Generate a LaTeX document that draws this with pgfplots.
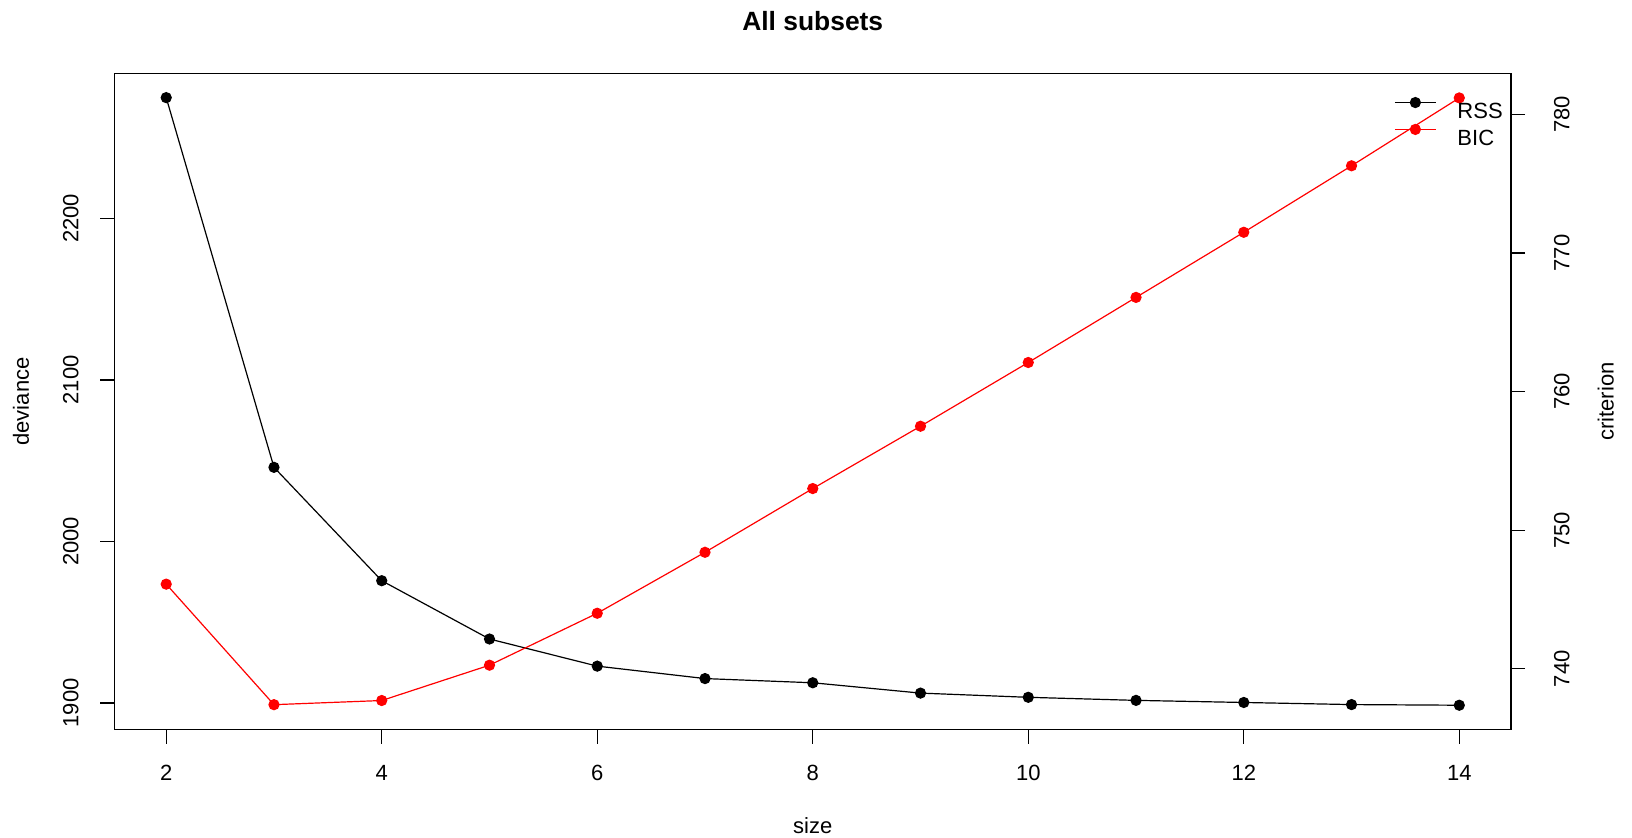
\documentclass[border=0pt]{standalone}
\usepackage{fontspec}
\setmainfont{Liberation Sans}
\usepackage{pgfplots}
\pgfplotsset{compat=1.18}

\newcommand{\rfont}{\fontsize{11}{13}\selectfont}

\pgfplotsset{
  rstyle/.style={
    at={(0,0)}, anchor=south west,
    width=698.25pt, height=328.1pt, scale only axis,
    xmin=1.52, xmax=14.48,
    tick align=outside,
    major tick length=7pt,
    tick style={black, line width=0.6pt},
    axis line style={line width=0.6pt},
    /pgf/number format/assume math mode=true,
    /pgf/number format/1000 sep={},
    ticklabel style={font=\rfont, inner sep=0pt},
    clip=false,
  },
}

\begin{document}
\begin{tikzpicture}
\useasboundingbox (-57.25pt,-53.7pt) rectangle (758.75pt,364.8pt);

% left axis: RSS (deviance)
\begin{axis}[
  rstyle, name=main,
  ymin=1883.5, ymax=2289.8,
  xtick={2,4,...,14},
  ytick={1900,2000,2100,2200},
  xtick pos=lower, ytick pos=left,
  xticklabel style={anchor=north, yshift=-10.6pt},
  % shifts below are in the rotated frame: local y points left
  yticklabel style={rotate=90, anchor=south, yshift=10.8pt},
]
\addplot[black, line width=0.6pt, mark=*, mark size=2.5pt] coordinates {
  (2,2274.8) (3,2045.9) (4,1975.7) (5,1939.6) (6,1922.8) (7,1915.1)
  (8,1912.5) (9,1906.1) (10,1903.5) (11,1901.6) (12,1900.3) (13,1899.0)
  (14,1898.6)
};
\end{axis}

% right axis: BIC (criterion)
\begin{axis}[
  rstyle,
  axis x line=none,
  axis y line*=right,
  ymin=735.6, ymax=782.97,
  ytick={740,750,760,770,780},
  yticklabel style={rotate=90, anchor=north, yshift=-14.25pt},
  legend cell align=left,
  legend image code/.code={
    \draw[mark repeat=2, mark phase=2, #1]
      plot coordinates {(0pt,3.9pt) (10.25pt,3.9pt) (20.5pt,3.9pt)};
  },
  legend style={
    draw=none, fill=none, inner sep=0pt, outer sep=0pt,
    at={(axis description cs:0.9164,0.9632)}, anchor=north west,
    column sep=10.5pt, row sep=3.1pt,
    nodes={inner sep=0pt, outer sep=0pt, text height=7.9pt, text depth=0pt, font=\rfont},
  },
]
\addlegendimage{black, line width=0.6pt, mark=*, mark size=2.5pt}
\addlegendentry{RSS}
\addplot[red, line width=0.6pt, mark=*, mark size=2.5pt] coordinates {
  (2,746.1) (3,737.4) (4,737.7) (5,740.25) (6,744.0) (7,748.4)
  (8,753.0) (9,757.5) (10,762.1) (11,766.8) (12,771.5) (13,776.3)
  (14,781.2)
};
\addlegendentry{BIC}
\end{axis}

\node[font=\fontsize{13.2}{15}\selectfont\bfseries] at ([yshift=26pt]main.north) {All subsets};
\node[font=\rfont] at ([yshift=-48pt]main.south) {size};
\node[font=\rfont, rotate=90] at ([xshift=-46.75pt]main.west) {deviance};
\node[font=\rfont, rotate=90] at ([xshift=47.35pt]main.east) {criterion};
\end{tikzpicture}
\end{document}
